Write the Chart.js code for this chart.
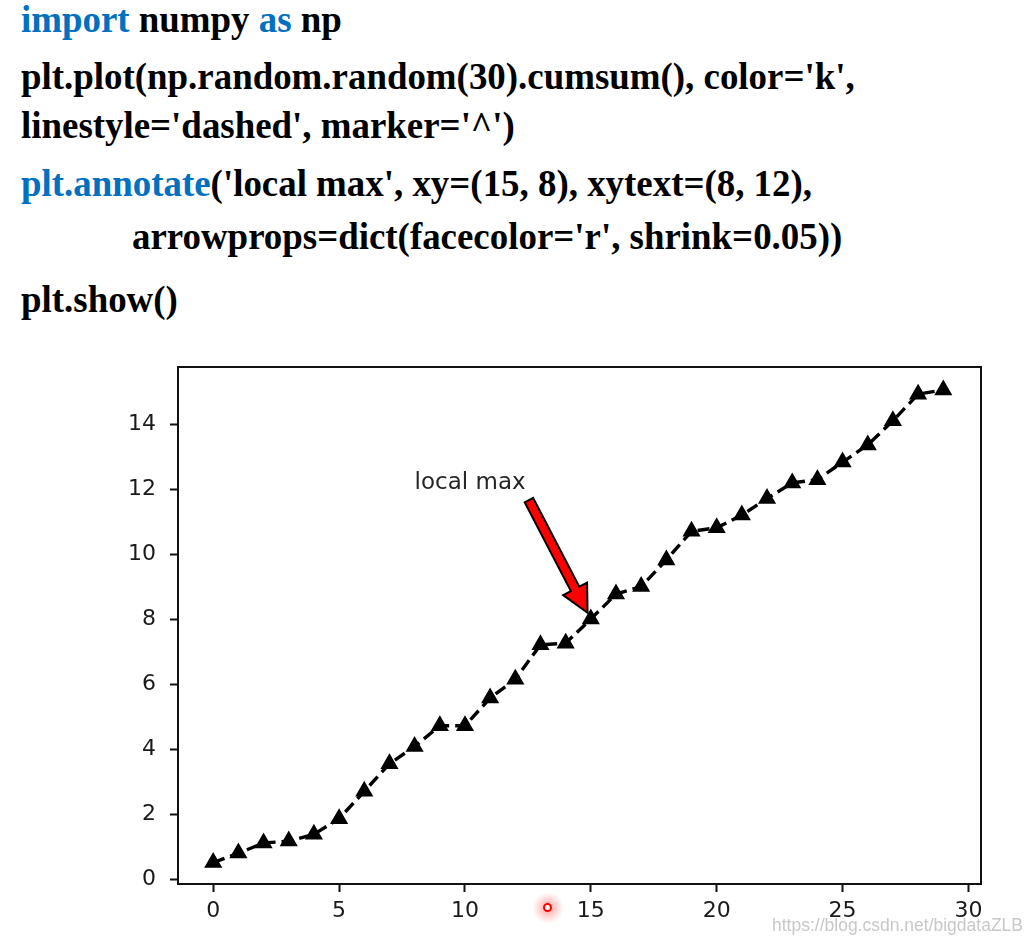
<!DOCTYPE html>
<html>
<head>
<meta charset="utf-8">
<title>plt.annotate local max</title>
<script src="https://cdn.jsdelivr.net/npm/chart.js@4.4.1/dist/chart.umd.min.js"></script>
<style>
    html, body { margin: 0; padding: 0; background: #fff; }
    body { width: 1033px; height: 944px; position: relative; overflow: hidden; }
    .code {
        position: absolute;
        font-family: 'Liberation Serif', 'Times New Roman', serif;
        font-weight: bold;
        font-size: 36.9px;
        line-height: 1;
        color: #000;
        white-space: pre;
    }
    .kw { color: #0070c0; }
    #chart-box { position: absolute; left: 0; top: 340px; width: 1033px; height: 604px; }
    .watermark {
        position: absolute;
        left: 772px;
        top: 915px;
        font-family: 'Liberation Sans', Arial, sans-serif;
        font-size: 17.5px;
        color: #c8c8c8;
        white-space: nowrap;
    }
    .cursor {
        position: absolute;
        left: 532px;
        top: 892px;
        width: 32px;
        height: 32px;
        border-radius: 50%;
        background: radial-gradient(circle, rgba(255, 40, 40, 0.45) 0, rgba(255, 40, 40, 0.15) 45%, rgba(255, 40, 40, 0) 70%);
    }
    .cursor::after {
        content: '';
        position: absolute;
        left: 11px;
        top: 11px;
        width: 5px;
        height: 5px;
        border: 2.5px solid #f00;
        border-radius: 50%;
        background: #fff;
    }
</style>
</head>
<body>
<div class="code" style="left:21px; top:2px;"><span class="kw">import</span> numpy <span class="kw">as</span> np</div>
<div class="code" style="left:21px; top:59px;">plt.plot(np.random.random(30).cumsum(), color='k',</div>
<div class="code" style="left:21px; top:108px;">linestyle='dashed', marker='^')</div>
<div class="code" style="left:21px; top:166px;"><span class="kw">plt.annotate</span>('local max', xy=(15, 8), xytext=(8, 12),</div>
<div class="code" style="left:132px; top:219px;">arrowprops=dict(facecolor='r', shrink=0.05))</div>
<div class="code" style="left:21px; top:282px;">plt.show()</div>

<div id="chart-box"><canvas id="chart"></canvas></div>
<div class="cursor"></div>
<div class="watermark">https://blog.csdn.net/bigdataZLB</div>

<script>
// values (np.random.random(30).cumsum())
const xValues = [0, 1, 2, 3, 4, 5, 6, 7, 8, 9, 10, 11, 12, 13, 14, 15, 16, 17, 18, 19, 20, 21, 22, 23, 24, 25, 26, 27, 28, 29];
const yValues = [0.51, 0.80, 1.11, 1.17, 1.38, 1.86, 2.70, 3.55, 4.08, 4.72, 4.72, 5.57, 6.15, 7.21, 7.26, 8.00, 8.77, 9.00, 9.82, 10.70, 10.81, 11.20, 11.71, 12.19, 12.29, 12.83, 13.36, 14.10, 14.92, 15.05];
const xTicks = [0, 5, 10, 15, 20, 25, 30];
const yTicks = [0, 2, 4, 6, 8, 10, 12, 14];
const xLimits = [-1.4, 30.5];
const yLimits = [-0.15, 15.75];
const annotText = 'local max';
const annotXY = [15, 8];
const annotXYText = [8, 12];
const annotShrink = 0.05;

document.addEventListener('DOMContentLoaded', () => {
    const canvas = document.getElementById('chart');
    const tickFont = { family: 'DejaVu Sans', size: 22 };
    const ink = '#111';

    // matplotlib-style annotate: text at xytext, red "simple" arrow to xy
    const annotatePlugin = {
        id: 'annotate',
        afterDatasetsDraw(chart) {
            const { ctx, scales: { x, y } } = chart;
            const tx = x.getPixelForValue(annotXYText[0]);
            const ty = y.getPixelForValue(annotXYText[1]);
            const ex = x.getPixelForValue(annotXY[0]);
            const ey = y.getPixelForValue(annotXY[1]);

            ctx.save();
            ctx.font = '23px "DejaVu Sans"';
            ctx.fillStyle = '#262626';
            ctx.textBaseline = 'alphabetic';
            ctx.textAlign = 'left';
            ctx.fillText(annotText, tx, ty);

            const w = ctx.measureText(annotText).width;
            const box = { x0: tx, x1: tx + w, y0: ty - 17.5, y1: ty + 4.8 };
            const pick = (opts, t) => opts.reduce((a, b) => (Math.abs(b - t) < Math.abs(a - t) ? b : a));
            const sx = pick([box.x0, (box.x0 + box.x1) / 2, box.x1], ex);
            const sy = pick([box.y0, (box.y0 + box.y1) / 2, box.y1], ey);

            const dx = ex - sx;
            const dy = ey - sy;
            const r = Math.hypot(dx, dy);
            const ux = dx / r;
            const uy = dy / r;
            const nx = -uy;
            const ny = ux;
            const cut = annotShrink * r;
            const ax = sx + ux * cut;
            const ay = sy + uy * cut;
            const bx = ex - ux * cut;
            const by = ey - uy * cut;

            const headLen = 27;
            const headW = 27;
            const tailW = 9.5;
            const hx = bx - ux * headLen;
            const hy = by - uy * headLen;

            ctx.beginPath();
            ctx.moveTo(ax + nx * tailW / 2, ay + ny * tailW / 2);
            ctx.lineTo(hx + nx * tailW / 2, hy + ny * tailW / 2);
            ctx.lineTo(hx + nx * headW / 2, hy + ny * headW / 2);
            ctx.lineTo(bx, by);
            ctx.lineTo(hx - nx * headW / 2, hy - ny * headW / 2);
            ctx.lineTo(hx - nx * tailW / 2, hy - ny * tailW / 2);
            ctx.lineTo(ax - nx * tailW / 2, ay - ny * tailW / 2);
            ctx.closePath();
            ctx.fillStyle = '#ff0000';
            ctx.fill();
            ctx.lineWidth = 2;
            ctx.lineJoin = 'miter';
            ctx.strokeStyle = '#000';
            ctx.stroke();
            ctx.restore();
        },
    };

    new Chart(canvas.getContext('2d'), {
        type: 'line',
        data: {
            datasets: [
                {
                    data: xValues.map((v, i) => ({ x: v, y: yValues[i] })),
                    borderColor: '#000',
                    borderWidth: 3.4,
                    borderDash: [12, 6],
                    tension: 0,
                    fill: false,
                    pointStyle: 'triangle',
                    pointRadius: 9,
                    pointHoverRadius: 9,
                    pointBackgroundColor: '#000',
                    pointBorderColor: '#000',
                    pointBorderWidth: 1.5,
                },
            ],
        },
        options: {
            responsive: true,
            maintainAspectRatio: false,
            animation: false,
            events: [],
            layout: { padding: { top: 25, right: 52, bottom: 0, left: 0 } },
            plugins: { legend: { display: false }, tooltip: { enabled: false } },
            scales: {
                x: {
                    type: 'linear',
                    position: 'bottom',
                    min: xLimits[0],
                    max: xLimits[1],
                    afterBuildTicks: (scale) => { scale.ticks = xTicks.map((v) => ({ value: v })); },
                    afterFit: (scale) => { scale.height = 60; },
                    ticks: { font: tickFont, color: '#1a1a1a', padding: 6, maxRotation: 0, callback: (v) => `${v}` },
                    grid: { drawOnChartArea: false, drawTicks: true, tickLength: 8, tickWidth: 2, tickColor: ink },
                    border: { color: ink, width: 2 },
                },
                y: {
                    type: 'linear',
                    position: 'left',
                    min: yLimits[0],
                    max: yLimits[1],
                    afterBuildTicks: (scale) => { scale.ticks = yTicks.map((v) => ({ value: v })); },
                    afterFit: (scale) => { scale.width = 178; },
                    ticks: { font: tickFont, color: '#1a1a1a', padding: 14, callback: (v) => `${v}` },
                    grid: { drawOnChartArea: false, drawTicks: true, tickLength: 8, tickWidth: 2, tickColor: ink },
                    border: { color: ink, width: 2 },
                },
                xTop: {
                    type: 'linear',
                    position: 'top',
                    min: 0,
                    max: 1,
                    afterFit: (scale) => { scale.height = 0; },
                    ticks: { display: false },
                    grid: { display: false, drawTicks: false },
                    border: { color: ink, width: 2 },
                },
                yRight: {
                    type: 'linear',
                    position: 'right',
                    min: 0,
                    max: 1,
                    afterFit: (scale) => { scale.width = 0; },
                    ticks: { display: false },
                    grid: { display: false, drawTicks: false },
                    border: { color: ink, width: 2 },
                },
            },
        },
        plugins: [annotatePlugin],
    });
});
</script>
</body>
</html>
